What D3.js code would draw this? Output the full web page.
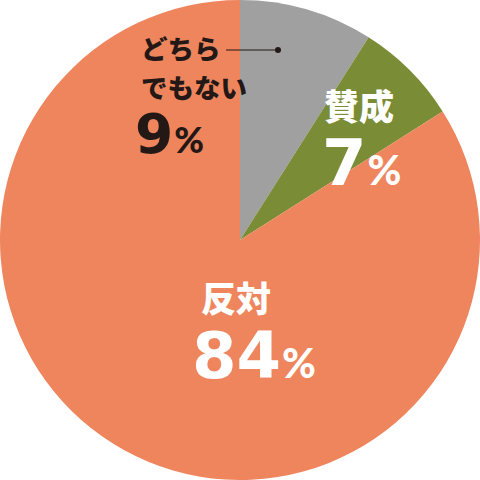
<!DOCTYPE html>
<html><head><meta charset="utf-8">
<script src="https://cdn.jsdelivr.net/npm/d3@7"></script>
<style>html,body{margin:0;padding:0;background:#fff;}svg{display:block;}</style>
</head><body>
<script>
const categories = ["どちらでもない", "賛成", "反対"];
const values = [9, 7, 84];
const colors = ["#a0a0a0", "#7a8c35", "#ee855d"];

const W = 480, H = 480, cx = 240, cy = 240, R = 240;
const svg = d3.select("body").append("svg").attr("width", W).attr("height", H);
const g = svg.append("g").attr("transform", `translate(${cx},${cy})`);
const pie = d3.pie().sort(null).value(d => d)(values);
const arc = d3.arc().innerRadius(0).outerRadius(R);
g.selectAll("path").data(pie).enter().append("path")
  .attr("d", arc).attr("fill", (d, i) => colors[i]);

const jp = "'Noto Sans CJK JP', sans-serif";
const num = "'DejaVu Sans', sans-serif";
const pct = "Lato, 'Noto Sans', sans-serif";

function label(x, y, txt, size, fill, font, weight) {
  return svg.append("text").attr("x", x).attr("y", y).attr("fill", fill)
    .style("font-family", font).style("font-weight", weight || 900)
    .style("font-size", size + "px").text(txt);
}
// どちらでもない
const dark = "#231815";
label(141, 59, "どちら", 26.5, dark, jp);
label(141, 97.5, "でもない", 26.5, dark, jp);
svg.append("line").attr("x1", 226).attr("x2", 278).attr("y1", 50).attr("y2", 50)
  .attr("stroke", dark).attr("stroke-width", 1.2);
svg.append("circle").attr("cx", 278).attr("cy", 50).attr("r", 3).attr("fill", dark);
const t9 = label(135, 153, "", 55, dark, num, 700);
t9.append("tspan").text(values[0]);
t9.append("tspan").style("font-family", pct).style("font-weight", 900).style("font-size", "36px").attr("dx", 1).text("%");

// 賛成
label(324, 120, "賛成", 35, "#fff", jp);
const t7 = label(322, 185, "", 64, "#fff", num, 700);
t7.append("tspan").text(values[1]);
t7.append("tspan").style("font-family", pct).style("font-weight", 900).style("font-size", "41px").attr("dx", 1).text("%");

// 反対
label(201, 312, "反対", 35, "#fff", jp);
const t84 = label(192, 378, "", 64, "#fff", num, 700);
t84.append("tspan").text(values[2]);
t84.append("tspan").style("font-family", pct).style("font-weight", 900).style("font-size", "41px").attr("dx", 1).text("%");
</script>
</body></html>
